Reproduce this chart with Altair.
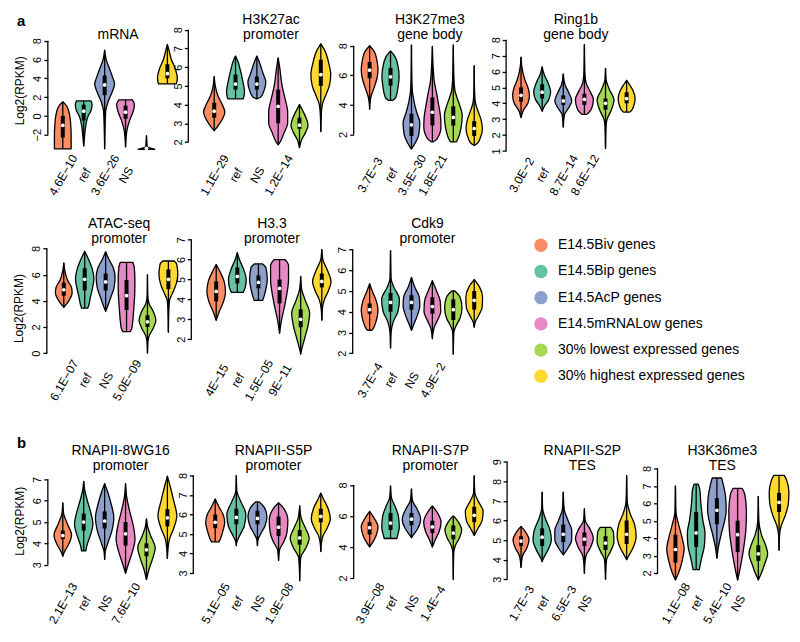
import json
import altair as alt
import pandas as pd

# ---------------- data ----------------
GROUPS = ["E14.5Biv genes", "E14.5Bip genes", "E14.5AcP genes", "E14.5mRNALow genes",
          "30% lowest expressed genes", "30% highest expressed genes"]
COLORS = ["#fc8d62", "#66c2a5", "#8da0cb", "#e78ac3", "#a6d854", "#ffd92f"]

TITLES = [["mRNA"], ["H3K27ac", "promoter"], ["H3K27me3", "gene body"], ["Ring1b", "gene body"],
          ["ATAC-seq", "promoter"], ["H3.3", "promoter"], ["Cdk9", "promoter"],
          ["RNAPII-8WG16", "promoter"], ["RNAPII-S5P", "promoter"], ["RNAPII-S7P", "promoter"],
          ["RNAPII-S2P", "TES"], ["H3K36me3", "TES"]]

PVALUES = [["4.6E−10", "ref", "3.6E−26", "NS"], ["1.1E−29", "ref", "NS", "1.2E−14"],
           ["3.7E−3", "ref", "3.5E−30", "1.8E−21"], ["3.0E−2", "ref", "8.7E−14", "8.6E−12"],
           ["6.1E−07", "ref", "NS", "5.0E−09"], ["4E−15", "ref", "1.5E−05", "9E−11"],
           ["3.7E−4", "ref", "NS", "4.9E−2"], ["2.1E−13", "ref", "NS", "7.6E−10"],
           ["5.1E−05", "ref", "NS", "1.9E−08"], ["3.9E−08", "ref", "NS", "1.4E−4"],
           ["1.7E−3", "ref", "6.5E−3", "NS"], ["1.1E−08", "ref", "5.4E−10", "NS"]]

TICKS = [[-2, 0, 2, 4, 6, 8], [2, 3, 4, 5, 6, 7, 8], [2, 4, 6, 8], [1, 2, 3, 4, 5, 6, 7, 8],
         [0, 2, 4, 6, 8], [2, 3, 4, 5, 6, 7], [2, 3, 4, 5, 6, 7],
         [3, 4, 5, 6, 7], [3, 4, 5, 6, 7, 8], [2, 4, 6, 8], [3, 4, 5, 6, 7, 8, 9], [2, 3, 4, 5, 6, 7, 8]]

PANEL_LETTERS = ["a", "b"]

# violin outlines: (log2 RPKM value, violin width in group units), one list per group
MRNA_SHAPE = [
    [(-3.5, 0.8), (-2, 0.8), (-1, 0.76), (0, 0.67), (1.0, 0.4), (1.5, 0)],
    [(-3.2, 0), (-2, 0.1), (-1, 0.2), (0, 0.43), (0.5, 0.67), (1.2, 0.8), (1.6, 0.7)],
    [(-3.5, 0), (0.5, 0.1), (1.5, 0.33), (2.5, 0.7), (3.4, 0.95), (4, 0.8), (5, 0.48), (6, 0.15), (7, 0)],
    [(-3.3, 0), (-1.5, 0.14), (-0.5, 0.38), (0.4, 0.7), (1.2, 0.85), (1.7, 0.65)],
    [(-3.55, 0.8), (-3.4, 0.3), (-3.2, 0.06), (-2.1, 0)],
    [(3.4, 0.85), (4, 0.95), (5, 0.76), (6, 0.38), (7, 0.15), (7.6, 0)],
]
H3K27AC_SHAPE = [
    [(2.6, 0), (2.8, 0.28), (3.2, 0.75), (3.6, 1.0), (4.0, 0.75), (4.5, 0.33), (5.0, 0.1), (5.5, 0)],
    [(4.3, 0.7), (4.35, 0.75), (4.7, 0.84), (5.2, 0.7), (5.8, 0.47), (6.3, 0.23), (6.6, 0)],
    [(4.3, 0), (4.4, 0.37), (4.8, 0.7), (5.2, 0.84), (5.7, 0.56), (6.2, 0.28), (6.6, 0)],
    [(1.85, 0), (2.0, 0.19), (2.5, 0.56), (3.0, 0.89), (3.6, 0.89), (4.3, 0.65), (5.0, 0.37), (6.0, 0.14), (6.5, 0)],
    [(1.7, 0), (2.1, 0.19), (2.5, 0.56), (2.9, 0.8), (3.3, 0.61), (3.7, 0.28), (4.0, 0)],
    [(2.55, 0), (3.5, 0.05), (4.0, 0.14), (4.5, 0.47), (5.0, 0.8), (5.6, 0.93), (6.2, 0.75), (6.9, 0.37), (7.25, 0)],
]
H3K27ME3_SHAPE = [
    [(3.7, 0), (4.2, 0.05), (4.6, 0.15), (5.2, 0.45), (5.8, 0.7), (6.4, 0.8), (7.0, 0.7), (7.6, 0.45), (8.0, 0)],
    [(4.3, 0.2), (4.5, 0.5), (5.2, 0.72), (5.9, 0.82), (6.6, 0.72), (7.3, 0.4), (7.65, 0)],
    [(1.0, 0), (1.4, 0.35), (2.0, 0.7), (2.8, 0.8), (3.5, 0.5), (4.2, 0.25), (5.0, 0.08), (6.0, 0.03), (8.05, 0)],
    [(1.5, 0.1), (1.7, 0.45), (2.5, 0.82), (3.2, 0.78), (4.0, 0.6), (4.8, 0.4), (5.5, 0.2), (6.5, 0.08), (7.95, 0)],
    [(1.5, 0.3), (1.8, 0.5), (2.5, 0.75), (3.3, 0.85), (4.0, 0.6), (4.5, 0.35), (5.0, 0.15), (6.0, 0.05), (8.05, 0)],
    [(1.25, 0), (1.4, 0.3), (1.8, 0.6), (2.4, 0.78), (3.0, 0.65), (3.6, 0.35), (4.2, 0.1), (5.0, 0.03), (6.65, 0)],
]
RING1B_SHAPE = [
    [(3.1, 0), (3.6, 0.25), (4.0, 0.65), (4.5, 0.8), (5.0, 0.65), (5.5, 0.35), (6.2, 0.1), (6.9, 0)],
    [(3.5, 0), (3.8, 0.2), (4.2, 0.6), (4.7, 0.8), (5.3, 0.55), (5.8, 0.2), (6.3, 0)],
    [(2.5, 0), (3.3, 0.12), (3.7, 0.5), (4.15, 0.8), (4.7, 0.5), (5.2, 0.15), (5.85, 0)],
    [(3.3, 0.2), (3.4, 0.4), (3.7, 0.7), (4.25, 0.85), (4.8, 0.5), (5.3, 0.15), (6.0, 0.04), (7.7, 0)],
    [(1.15, 0), (2.5, 0.05), (3.0, 0.15), (3.5, 0.5), (4.2, 0.8), (4.9, 0.35), (5.5, 0.05), (6.2, 0)],
    [(3.45, 0.3), (3.5, 0.4), (3.9, 0.7), (4.3, 0.8), (4.8, 0.6), (5.2, 0.25), (5.45, 0)],
]
ATAC_SHAPE = [
    [(3.5, 0), (3.7, 0.2), (4.1, 0.55), (4.6, 0.8), (5.0, 0.75), (5.6, 0.35), (6.3, 0.1), (6.9, 0)],
    [(3.45, 0.3), (3.7, 0.4), (4.3, 0.55), (5.0, 0.75), (5.7, 0.88), (6.5, 0.7), (7.3, 0.3), (7.8, 0)],
    [(3.2, 0), (3.6, 0.2), (4.3, 0.5), (5.0, 0.8), (5.8, 0.9), (6.5, 0.75), (7.2, 0.3), (7.75, 0)],
    [(1.65, 0.35), (1.9, 0.5), (2.5, 0.6), (3.5, 0.7), (4.5, 0.78), (5.5, 0.8), (6.5, 0.75), (6.95, 0.6)],
    [(0, 0), (0.7, 0.03), (1.3, 0.15), (1.9, 0.55), (2.5, 0.8), (3.2, 0.55), (3.8, 0.15), (4.5, 0.02), (6.0, 0)],
    [(1.6, 0), (3.0, 0.03), (4.0, 0.1), (4.6, 0.4), (5.3, 0.75), (6.0, 0.9), (6.8, 0.8), (7.05, 0.55)],
]
H33_SHAPE = [
    [(2.95, 0), (3.4, 0.3), (3.9, 0.7), (4.4, 0.88), (4.9, 0.75), (5.4, 0.35), (5.75, 0)],
    [(4.35, 0.55), (4.6, 0.75), (5.0, 0.84), (5.5, 0.6), (6.0, 0.2), (6.35, 0)],
    [(3.95, 0.4), (4.1, 0.5), (4.5, 0.7), (5.0, 0.84), (5.6, 0.7), (5.78, 0.4)],
    [(2.3, 0), (2.5, 0.05), (3.0, 0.2), (3.6, 0.45), (4.3, 0.7), (5.0, 0.85), (5.7, 0.85), (6.0, 0.5)],
    [(1.25, 0), (1.5, 0.1), (2.0, 0.35), (2.7, 0.7), (3.3, 0.85), (4.0, 0.4), (4.5, 0.1), (5.15, 0)],
    [(2.95, 0), (3.5, 0.05), (4.0, 0.25), (4.4, 0.6), (4.9, 0.87), (5.5, 0.5), (6.0, 0.1), (6.5, 0)],
]
CDK9_SHAPE = [
    [(3.1, 0.2), (3.2, 0.35), (3.6, 0.65), (4.1, 0.8), (4.5, 0.65), (5.0, 0.25), (5.35, 0)],
    [(2.25, 0), (3.0, 0.05), (3.5, 0.25), (4.0, 0.7), (4.6, 0.85), (5.2, 0.3), (5.6, 0.05), (6.95, 0)],
    [(3.1, 0), (3.3, 0.15), (3.8, 0.55), (4.3, 0.8), (4.7, 0.75), (5.2, 0.3), (5.65, 0)],
    [(2.7, 0), (3.2, 0.15), (3.6, 0.5), (4.0, 0.8), (4.5, 0.75), (5.0, 0.4), (5.5, 0)],
    [(1.95, 0), (3.0, 0.05), (3.3, 0.25), (3.7, 0.65), (4.2, 0.83), (4.7, 0.65), (5.0, 0.15)],
    [(3.25, 0), (3.5, 0.1), (3.8, 0.4), (4.2, 0.75), (4.7, 0.8), (5.2, 0.5), (5.55, 0)],
]
WG16_SHAPE = [
    [(3.4, 0), (3.6, 0.15), (4.0, 0.6), (4.4, 0.84), (4.9, 0.45), (5.4, 0.08), (5.9, 0)],
    [(3.65, 0.2), (3.9, 0.3), (4.4, 0.65), (4.9, 0.88), (5.4, 0.7), (6.0, 0.35), (6.5, 0.1), (6.9, 0)],
    [(3.25, 0), (3.6, 0.05), (4.0, 0.3), (4.6, 0.7), (5.2, 0.88), (5.8, 0.65), (6.4, 0.3), (6.8, 0)],
    [(2.6, 0), (3.0, 0.25), (3.6, 0.65), (4.2, 0.9), (4.8, 0.75), (5.5, 0.4), (6.2, 0.1), (6.8, 0)],
    [(2.3, 0), (2.8, 0.25), (3.3, 0.6), (3.8, 0.84), (4.3, 0.45), (4.8, 0.1), (5.15, 0)],
    [(3.3, 0), (3.7, 0.05), (4.2, 0.2), (4.7, 0.6), (5.3, 0.9), (6.0, 0.6), (6.7, 0.25), (7.15, 0)],
]
S5P_SHAPE = [
    [(4.6, 0.35), (4.7, 0.45), (5.1, 0.7), (5.6, 0.9), (6.0, 0.75), (6.4, 0.35), (6.8, 0)],
    [(4.4, 0), (4.6, 0.05), (4.9, 0.3), (5.4, 0.75), (6.0, 0.9), (6.7, 0.4), (7.2, 0.05), (8.0, 0)],
    [(4.4, 0), (4.7, 0.05), (5.0, 0.3), (5.4, 0.7), (5.9, 0.9), (6.4, 0.6), (6.65, 0.15)],
    [(3.65, 0), (4.2, 0.1), (4.6, 0.5), (5.1, 0.8), (5.7, 0.88), (6.3, 0.5), (6.6, 0)],
    [(2.6, 0), (3.2, 0.03), (3.8, 0.1), (4.3, 0.6), (4.8, 0.9), (5.3, 0.55), (5.8, 0.15), (6.45, 0)],
    [(4.1, 0), (4.5, 0.05), (4.9, 0.2), (5.3, 0.6), (5.8, 0.9), (6.3, 0.7), (6.8, 0.25), (7.1, 0)],
]
S7P_SHAPE = [
    [(4.0, 0), (4.2, 0.2), (4.7, 0.6), (5.3, 0.8), (5.9, 0.4), (6.3, 0)],
    [(4.55, 0.6), (4.8, 0.7), (5.3, 0.84), (6.0, 0.75), (6.6, 0.45), (7.2, 0.08), (7.95, 0)],
    [(4.6, 0), (4.8, 0.2), (5.2, 0.6), (5.8, 0.88), (6.5, 0.5), (7.0, 0.1), (7.75, 0)],
    [(4.0, 0), (4.5, 0.3), (5.0, 0.65), (5.6, 0.83), (6.3, 0.4), (6.65, 0)],
    [(1.9, 0), (3.6, 0.04), (4.1, 0.2), (4.6, 0.6), (5.1, 0.8), (5.6, 0.5), (6.0, 0.05)],
    [(4.75, 0), (5.2, 0.35), (5.7, 0.75), (6.3, 0.85), (7.0, 0.35), (7.5, 0.06), (8.6, 0)],
]
S2P_SHAPE = [
    [(3.6, 0), (4.2, 0.15), (4.6, 0.55), (5.0, 0.76), (5.4, 0.45), (5.7, 0)],
    [(3.9, 0), (4.1, 0.15), (4.5, 0.55), (5.0, 0.87), (5.5, 0.75), (6.1, 0.3), (6.6, 0.05), (7.45, 0)],
    [(4.25, 0), (4.6, 0.45), (5.0, 0.8), (5.5, 0.8), (6.0, 0.45), (6.6, 0.08), (7.45, 0)],
    [(3.3, 0), (3.7, 0.03), (4.2, 0.15), (4.6, 0.55), (5.1, 0.84), (5.6, 0.5), (6.0, 0.08), (6.6, 0)],
    [(3.0, 0), (3.5, 0.03), (4.0, 0.1), (4.4, 0.45), (4.9, 0.8), (5.4, 0.75), (5.65, 0.5)],
    [(4.0, 0), (4.2, 0.2), (4.6, 0.6), (5.2, 0.9), (5.8, 0.75), (6.4, 0.3), (7.0, 0.05), (8.3, 0)],
]
H3K36_SHAPE = [
    [(1.6, 0), (2.0, 0.3), (2.7, 0.65), (3.4, 0.84), (4.0, 0.65), (4.8, 0.3), (5.5, 0.05), (7.0, 0)],
    [(2.2, 0.3), (2.8, 0.5), (3.6, 0.8), (4.3, 0.85), (5.0, 0.65), (6.0, 0.45), (6.8, 0.35), (7.1, 0.2)],
    [(2.85, 0), (3.5, 0.15), (4.3, 0.45), (5.0, 0.75), (5.6, 0.9), (6.3, 0.85), (7.0, 0.65), (7.45, 0.45)],
    [(1.6, 0), (2.0, 0.15), (2.6, 0.35), (3.5, 0.6), (4.5, 0.8), (5.5, 0.85), (6.5, 0.7), (6.85, 0.45)],
    [(1.6, 0), (2.0, 0.3), (2.5, 0.6), (3.1, 0.9), (3.6, 0.7), (4.2, 0.3), (5.0, 0.05), (6.4, 0)],
    [(3.3, 0), (4.2, 0.05), (4.7, 0.2), (5.3, 0.6), (6.0, 0.9), (6.6, 0.95), (7.3, 0.75), (7.6, 0.5)],
]

# (first quartile, median, third quartile) per group
MRNA_BOX = [(-2.3, -1.0, 0.0), (-0.5, 0.5, 1.2), (2.2, 3.3, 4.3), (-0.3, 0.4, 1.1), (-3.5, -3.45, -3.4), (4.0, 4.5, 5.5)]
H3K27AC_BOX = [(3.3, 3.65, 4.1), (4.8, 5.1, 5.6), (4.8, 5.1, 5.5), (3.0, 3.9, 4.8), (2.7, 2.9, 3.3), (5.0, 5.6, 6.4)]
H3K27ME3_BOX = [(5.8, 6.35, 6.9), (5.3, 5.9, 6.5), (1.9, 2.65, 3.4), (2.6, 3.5, 4.5), (2.6, 3.15, 3.9), (1.9, 2.4, 2.9)]
RING1B_BOX = [(4.1, 4.5, 5.0), (4.3, 4.7, 5.2), (3.9, 4.15, 4.5), (3.9, 4.25, 4.6), (3.6, 4.0, 4.3), (4.0, 4.3, 4.7)]
ATAC_BOX = [(4.4, 4.85, 5.4), (4.8, 5.65, 6.5), (4.8, 5.45, 6.1), (3.3, 4.4, 5.6), (2.0, 2.4, 2.9), (4.9, 5.65, 6.4)]
H33_BOX = [(3.9, 4.4, 4.9), (4.8, 5.15, 5.6), (4.55, 4.85, 5.2), (3.8, 4.55, 5.0), (2.6, 3.0, 3.5), (4.6, 4.9, 5.3)]
CDK9_BOX = [(3.9, 4.1, 4.4), (4.0, 4.45, 4.9), (4.1, 4.45, 4.8), (3.9, 4.25, 4.7), (3.6, 4.1, 4.6), (4.1, 4.55, 5.0)]
WG16_BOX = [(4.2, 4.37, 4.6), (4.6, 5.0, 5.4), (4.7, 5.05, 5.5), (3.9, 4.45, 5.0), (3.4, 3.7, 4.0), (4.8, 5.2, 5.6)]
S5P_BOX = [(5.3, 5.6, 6.0), (5.5, 5.85, 6.3), (5.5, 5.8, 6.2), (4.9, 5.35, 5.9), (4.45, 4.8, 5.2), (5.6, 5.9, 6.3)]
S7P_BOX = [(4.8, 5.25, 5.6), (5.1, 5.55, 6.2), (5.4, 5.8, 6.2), (4.9, 5.3, 5.7), (4.5, 4.9, 5.4), (5.6, 6.05, 6.6)]
S2P_BOX = [(4.7, 4.95, 5.2), (4.7, 5.15, 5.6), (4.9, 5.3, 5.8), (4.7, 5.05, 5.4), (4.5, 4.85, 5.2), (4.8, 5.3, 6.0)]
H3K36_BOX = [(2.6, 3.35, 4.2), (3.5, 4.3, 5.5), (4.8, 5.6, 6.3), (3.2, 4.2, 5.0), (2.7, 3.1, 3.6), (5.5, 6.05, 6.6)]

SHAPES = [MRNA_SHAPE, H3K27AC_SHAPE, H3K27ME3_SHAPE, RING1B_SHAPE, ATAC_SHAPE, H33_SHAPE, CDK9_SHAPE,
          WG16_SHAPE, S5P_SHAPE, S7P_SHAPE, S2P_SHAPE, H3K36_SHAPE]
BOXES = [MRNA_BOX, H3K27AC_BOX, H3K27ME3_BOX, RING1B_BOX, ATAC_BOX, H33_BOX, CDK9_BOX,
         WG16_BOX, S5P_BOX, S7P_BOX, S2P_BOX, H3K36_BOX]

# ---------------- layout (page pixels) ----------------
FONT = "Liberation Sans"
YMAP = [(8, 41.7, -2, 136.0), (8, 30.7, 2, 143.3), (8, 46.7, 2, 135.7), (8, 40.7, 1, 152.3),
        (8, 248.3, 0, 353.3), (7, 239.3, 2, 339.3), (7, 249.3, 2, 353.3),
        (7, 481.0, 3, 566.7), (7, 496.7, 3, 575.0), (8, 486.7, 2, 580.0), (9, 463.3, 3, 581.3), (8, 470.0, 2, 575.0)]
XMAP = [(43, 59, 21.0), (185, 211, 21.4), (351, 367, 21.0), (504, 519, 21.2),
        (43, 60, 21.0), (188, 213, 21.2), (350, 367, 21.0),
        (43, 59, 21.0), (190, 212, 21.2), (351, 367, 21.0), (505, 519, 21.2), (656, 674, 20.8)]
ROWS = [[0, 1, 2, 3], [4, 5, 6], [7, 8, 9, 10, 11]]
ROW_LEFT = 43
ROW_TOP = [28, 237, 461]
ROW_BOTTOM = [155, 379, 584]
TITLE_BOTTOM = [43, 246, 475]
LABEL_CENTER = [176, 380, 605]
LAST_RIGHT = [644, 500, 786]
LETTER_POS = {0: (13, 22), 2: (13, 444)}
LEGEND_BOTTOM = 417

color_scale = alt.Scale(domain=GROUPS, range=COLORS)


def panel(p, r, left, width):
    top, bot = ROW_TOP[r], ROW_BOTTOM[r]
    hv, hp, lv, lp = YMAP[p]
    ppu = (lp - hp) / (hv - lv)
    v_top = hv + (hp - top) / ppu
    v_bot = hv - (bot - hp) / ppu
    _, v1, k = XMAP[p]
    x0 = 1 - (v1 - left) / k
    x1 = x0 + width / k
    xs = alt.Scale(domain=[x0, x1], nice=False, zero=False)
    ys = alt.Scale(domain=[v_bot, v_top], nice=False, zero=False)

    recs, brecs = [], []
    for gi, prof in enumerate(SHAPES[p]):
        for v, w in prof:
            recs.append({"g": GROUPS[gi], "i": gi + 1, "v": v, "w": w})
        q1, med, q3 = BOXES[p][gi]
        vals = [v for v, _ in prof]
        brecs.append({"g": GROUPS[gi], "i": gi + 1, "q1": q1, "med": med, "q3": q3,
                      "lo": min(vals), "hi": max(vals)})
    sdf = pd.DataFrame(recs)
    bdf = pd.DataFrame(brecs)
    adf = pd.DataFrame({"a": [min(TICKS[p])], "b": [max(TICKS[p])]})

    first = (p == ROWS[r][0])
    yaxis = alt.Axis(values=TICKS[p], domain=False, tickSize=4, tickWidth=1.3, tickColor="black",
                     labelAngle=270, labelAlign="center", labelBaseline="bottom", labelPadding=1,
                     labelFontSize=11, labelColor="black", labelFont=FONT, grid=False,
                     labelFlush=False, labelOverlap=False,
                     title="Log2(RPKM)" if first else None, titleFontSize=12,
                     titleFontWeight="normal", titleFont=FONT, titleColor="black", titlePadding=5)
    expr = json.dumps(PVALUES[p], ensure_ascii=False) + "[datum.value - 1]"
    xaxis = alt.Axis(values=[1, 2, 3, 4], labelExpr=expr, domain=False, ticks=False, tickSize=0,
                     labelAngle=300, labelAlign="center", labelBaseline="middle",
                     labelPadding=LABEL_CENTER[r] - bot, labelFontSize=12, labelColor="black",
                     labelFont=FONT, grid=False, title=None, labelFlush=False, labelOverlap=False)

    area = alt.Chart(sdf).transform_calculate(
        xl="datum.i - datum.w / 2", xr="datum.i + datum.w / 2"
    ).mark_area(orient="horizontal", interpolate="monotone", stroke="black", strokeWidth=1.3,
                fillOpacity=1, opacity=1, strokeJoin="round").encode(
        y=alt.Y("v:Q", scale=ys, axis=yaxis),
        x=alt.X("xl:Q", scale=xs, axis=xaxis),
        x2="xr:Q",
        fill=alt.Fill("g:N", scale=color_scale, legend=None),
        detail="g:N",
    )
    whisk = alt.Chart(bdf).mark_rule(color="black", strokeWidth=1.3).encode(
        x=alt.X("i:Q", scale=xs, axis=xaxis), y=alt.Y("lo:Q", scale=ys, axis=yaxis), y2="hi:Q")
    box = alt.Chart(bdf).mark_rule(color="black", strokeWidth=4).encode(
        x=alt.X("i:Q", scale=xs, axis=xaxis), y=alt.Y("q1:Q", scale=ys, axis=yaxis), y2="q3:Q")
    med = alt.Chart(bdf).mark_circle(color="white", size=14, opacity=1).encode(
        x=alt.X("i:Q", scale=xs, axis=xaxis), y=alt.Y("med:Q", scale=ys, axis=yaxis))
    axl = alt.Chart(adf).mark_rule(color="black", strokeWidth=1.3).encode(
        x=alt.value(0), y=alt.Y("a:Q", scale=ys, axis=yaxis), y2="b:Q")
    title = alt.TitleParams(text=TITLES[p], fontSize=14, font=FONT, fontWeight="normal",
                            anchor="middle", offset=top - TITLE_BOTTOM[r], lineHeight=15,
                            color="black")
    return alt.layer(area, whisk, box, med, axl).properties(width=width, height=bot - top, title=title)


def letter_chart(r, letter):
    lx, ly = LETTER_POS[r]
    return alt.Chart(pd.DataFrame({"t": [letter]})).mark_text(
        fontSize=15, fontWeight="bold", align="left", baseline="middle", font=FONT,
        color="black").encode(text="t:N", x=alt.value(lx - ROW_LEFT),
                              y=alt.value(ly - ROW_TOP[r])).properties(
        width=1, height=ROW_BOTTOM[r] - ROW_TOP[r])


def legend_chart(r, width):
    ldf = pd.DataFrame({"g": GROUPS, "k": list(range(len(GROUPS)))})
    h = LEGEND_BOTTOM - ROW_TOP[r]
    ppu = 26.3
    first_px = 245 - ROW_TOP[r]
    ls = alt.Scale(domain=[-first_px / ppu, (h - first_px) / ppu], reverse=True, nice=False, zero=False)
    dots = alt.Chart(ldf).mark_circle(size=180, opacity=1).encode(
        y=alt.Y("k:Q", scale=ls, axis=None), x=alt.value(39),
        color=alt.Color("g:N", scale=color_scale, legend=None))
    txt = alt.Chart(ldf).mark_text(align="left", baseline="middle", fontSize=14, font=FONT,
                                   color="black").encode(
        y=alt.Y("k:Q", scale=ls, axis=None), x=alt.value(56), text="g:N")
    return alt.layer(dots, txt).properties(width=width, height=h)


rows = []
for r, ids in enumerate(ROWS):
    row = []
    start = ROW_LEFT
    if r == 0:
        row.append(letter_chart(r, PANEL_LETTERS[0]))
        start = ROW_LEFT + 1
    elif r == 2:
        row.append(letter_chart(r, PANEL_LETTERS[1]))
        start = ROW_LEFT + 1
    for j, p in enumerate(ids):
        left = start if j == 0 else XMAP[p][0]
        right = XMAP[ids[j + 1]][0] if j + 1 < len(ids) else LAST_RIGHT[r]
        row.append(panel(p, r, left, right - left))
    if r == 1:
        row.append(legend_chart(r, 250))
    rows.append(alt.hconcat(*row, spacing=0, bounds="flush"))

chart = alt.vconcat(*rows, spacing=19).properties(
    padding={"left": 5, "top": 3, "right": 2, "bottom": 2}
).configure(font=FONT).configure_view(stroke=None)

chart.save("out.html", embed_options={"renderer": "svg", "actions": False})
